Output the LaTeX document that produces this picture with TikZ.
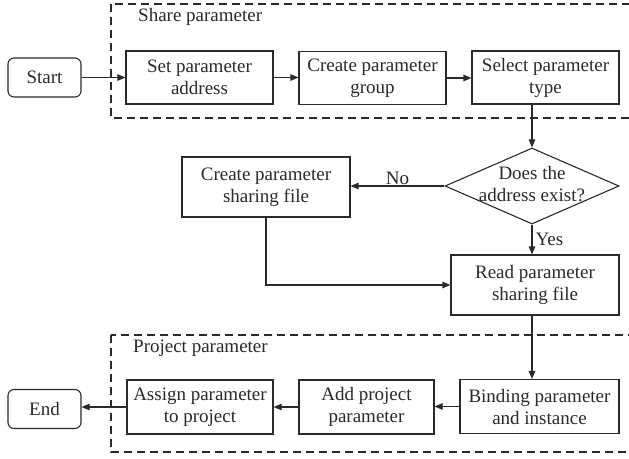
\documentclass[tikz,border=0pt]{standalone}
\usepackage{fontspec}
\setmainfont{Liberation Serif}
\usetikzlibrary{shapes.geometric,arrows.meta,calc}

\definecolor{ink}{HTML}{2a2a2a}

\tikzset{
  stepbox/.style={draw=ink, line width=1.1pt, rectangle, align=center, inner sep=0pt, text=ink},
  termbox/.style={stepbox, rounded corners=6pt},
  decision/.style={draw=ink, line width=1.1pt, diamond, inner sep=0pt},
  grouprect/.style={draw=ink, line width=1.2pt, dash pattern=on 8pt off 5pt},
  flow/.style={draw=ink, line width=1.1pt, -{Triangle[length=8pt,width=6.5pt]}},
  tag/.style={text=ink, inner sep=0pt},
}

\begin{document}
\begin{tikzpicture}[x=1pt, y=-1pt, font=\fontsize{19}{22}\selectfont]
  \clip (0,0) rectangle (629,458);
  \fill[white] (0,0) rectangle (629,458);

  % dashed group frames
  \draw[grouprect] (111,4) rectangle (640,118);
  \node[tag, anchor=west] (sharelbl) at (138,17) {Share parameter};
  \draw[grouprect] (111,335) rectangle (640,452);
  \node[tag, anchor=west] (projlbl) at (133,348) {Project parameter};

  % top row
  \node[termbox, minimum width=73pt, minimum height=39pt] (start) at (44.5,77.5) {Start};
  \node[stepbox, minimum width=147pt, minimum height=53pt] (setaddr) at (199.5,77.5) {Set parameter\\address};
  \node[stepbox, minimum width=147pt, minimum height=53pt] (mkgroup) at (372.5,78) {Create parameter\\group};
  \node[stepbox, minimum width=147pt, minimum height=53pt] (seltype) at (545.5,77.5) {Select parameter\\type};

  % decision
  \node[decision, minimum width=174pt, minimum height=76pt] (dec) at (532,186) {};
  \node[tag, align=center] (declbl) at (532,184) {Does the\\address exist?};

  \node[stepbox, minimum width=168pt, minimum height=60pt] (mkfile) at (266,187) {Create parameter\\sharing file};
  \node[stepbox, minimum width=168pt, minimum height=60pt] (readfile) at (535,285) {Read parameter\\sharing file};

  % bottom row
  \node[stepbox, minimum width=159pt, minimum height=54pt] (bind) at (539.5,406.5) {Binding parameter\\and instance};
  \node[stepbox, minimum width=135pt, minimum height=54pt] (addp) at (366.5,407) {Add project\\parameter};
  \node[stepbox, minimum width=146pt, minimum height=54pt] (assign) at (200,407) {Assign parameter\\to project};
  \node[termbox, minimum width=73pt, minimum height=39pt] (end) at (44.5,409) {End};

  % connectors
  \draw[flow] (start.east) -- (start.east -| setaddr.west);
  \draw[flow] (setaddr.east) -- (setaddr.east -| mkgroup.west);
  \draw[flow] (mkgroup.east) -- (mkgroup.east -| seltype.west);
  \draw[flow] (dec.north |- seltype.south) -- (dec.north);
  \draw[flow] (dec.west) -- (dec.west -| mkfile.east) node[midway, above=1pt, tag] (nolbl) {No};
  \draw[flow] (dec.south) -- (dec.south |- readfile.north) node[midway, right=3pt, tag] (yeslbl) {Yes};
  \draw[flow] (mkfile.south) |- (readfile.west);
  \draw[flow] (dec.south |- readfile.south) -- (dec.south |- bind.north);
  \draw[flow] (bind.west) -- (bind.west -| addp.east);
  \draw[flow] (addp.west) -- (addp.west -| assign.east);
  \draw[flow] (assign.west) -- (assign.west -| end.east);
\end{tikzpicture}
\end{document}
